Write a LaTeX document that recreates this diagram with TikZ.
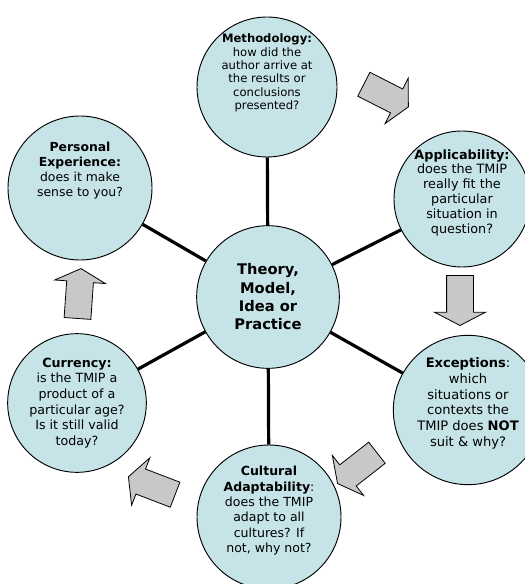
\documentclass[tikz,border=0pt]{standalone}
\usepackage{fontspec}
\setmainfont{DejaVu Sans}
\usetikzlibrary{shapes.arrows}
\definecolor{Pale}{HTML}{C6E4E8}
\definecolor{Shade}{HTML}{C8C8C8}
\newcommand{\lift}[1]{\\\rule{0pt}{#1}}
\newcommand{\sized}[2]{\fontsize{#1}{#2}\selectfont}
\tikzset{
  idea/.style={circle,draw=black,line width=.7pt,fill=Pale,inner sep=-20pt,
    align=center,minimum size=#1,font=\sized{8.8pt}{10.2pt}},
  idea/.default=105pt,
  core idea/.style={idea=107pt,font=\bfseries\sized{11pt}{13.75pt}},
  spoke/.style={line width=2.4pt,draw=black},
  flow arrow/.style={single arrow,draw=black,line width=.6pt,fill=Shade,
    inner xsep=0pt,inner ysep=9.75pt,minimum height=37.5pt,
    single arrow head extend=9pt,single arrow tip angle=125}
}

\begin{document}
\begin{tikzpicture}[x=.75pt,y=-.75pt]
  \useasboundingbox (0,0) rectangle (524,584);
  \node[core idea] (core) at (268,297) {Theory,\\Model,\\Idea or\\Practice};
  \node[idea,font=\sized{8.7pt}{10pt}] (method) at (267,87)
    {\textbf{Methodology:}\\how did the\\author arrive at\\the results or\\conclusions\\presented?\lift{20pt}};
  \node[idea=102pt,font=\sized{9.6pt}{11.2pt}] (apply) at (462,199)
    {\textbf{Applicability:}\\does the TMIP\\really fit the\\particular\\situation in\\question?\lift{9pt}};
  \node[idea=112pt,font=\sized{9.8pt}{11.8pt}] (except) at (468,410)
    {\textbf{Exceptions}:\\which\\situations or\\contexts the\\TMIP does \textbf{NOT}\\suit \& why?\lift{8pt}};
  \node[idea=108pt,font=\sized{9.4pt}{11.5pt}] (culture) at (269,517)
    {\textbf{Cultural}\\\textbf{Adaptability}:\\does the TMIP\\adapt to all\\cultures? If\\not, why not?\lift{7pt}};
  \node[idea=104pt,font=\sized{9.5pt}{11.7pt}] (currency) at (77,403)
    {\textbf{Currency:}\\is the TMIP a\\product of a\\particular age?\\Is it still valid\\today?};
  \node[idea=108pt,font=\sized{9.3pt}{11.4pt}] (personal) at (80,188)
    {\textbf{Personal}\\\textbf{Experience:}\\does it make\\sense to you?\lift{25pt}};
  % spokes
  \foreach \n in {method,apply,except,culture,currency,personal}
    \draw[spoke] (core) -- (\n);
  % arrows round the ring
  \node[flow arrow,rotate=-27] (flow1) at (383,94) {};
  \node[flow arrow,rotate=-90] (flow2) at (460,297) {};
  \node[flow arrow,rotate=-142] (flow3) at (360,466) {};
  \node[flow arrow,rotate=159] (flow4) at (155,487) {};
  \node[flow arrow,rotate=86] (flow5) at (79,297) {};
\end{tikzpicture}
\end{document}
